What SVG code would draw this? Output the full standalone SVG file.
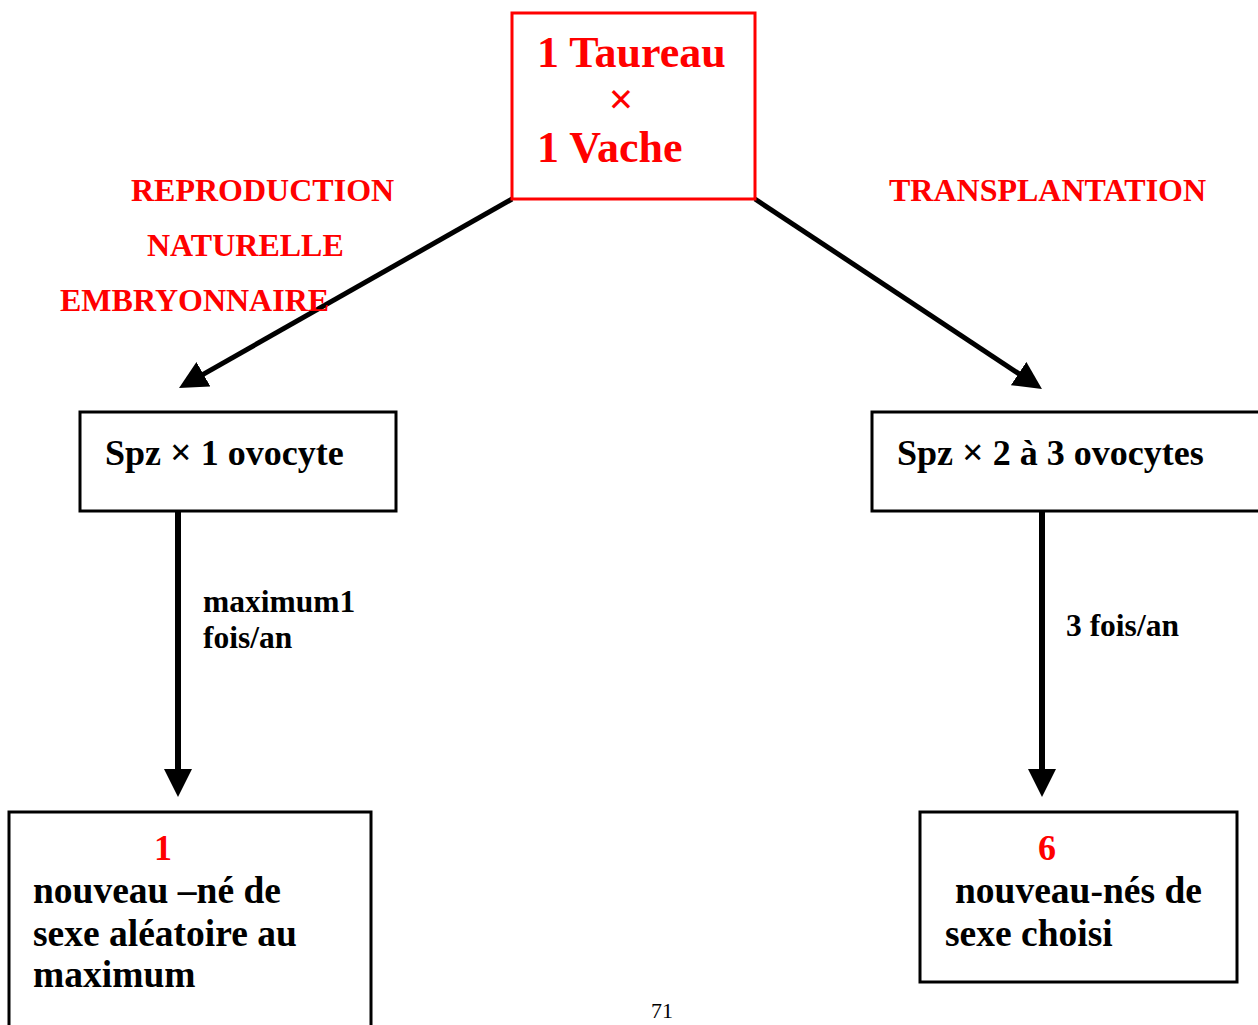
<svg xmlns="http://www.w3.org/2000/svg" width="1258" height="1025" viewBox="0 0 1258 1025">
  <defs>
    <style>
      .t { font-family: "Liberation Serif", "Times New Roman", serif; font-weight: bold; }
      .red { fill: #ff0000; }
      .blk { fill: #000000; }
      .box { fill: #ffffff; stroke: #000000; stroke-width: 3; }
      .boxr { fill: #ffffff; stroke: #ff0000; stroke-width: 3; }
      .edge { stroke: #000000; fill: none; }
      .mul { font-size: 38px; }
    </style>
    <marker id="head" markerUnits="userSpaceOnUse" viewBox="0 0 28 28" refX="14" refY="14" markerWidth="28" markerHeight="28" orient="auto">
      <path d="M0,0 L28,14 L0,28 Z" fill="#000000"/>
    </marker>
  </defs>

  <rect width="1258" height="1025" fill="#ffffff"/>

  <!-- connectors: lines stop short of the tip so the head stays pointed -->
  <g id="connectors">
    <line class="edge" x1="512" y1="199" x2="191.2" y2="381.1" stroke-width="5" marker-end="url(#head)"/>
    <line class="edge" x1="755" y1="199" x2="1030.3" y2="381.3" stroke-width="5" marker-end="url(#head)"/>
    <line class="edge" x1="178" y1="511" x2="178" y2="783" stroke-width="6" marker-end="url(#head)"/>
    <line class="edge" x1="1042" y1="511" x2="1042" y2="783" stroke-width="6" marker-end="url(#head)"/>
  </g>

  <!-- edge labels -->
  <g id="label-left" class="t red" font-size="32">
    <text x="131" y="201">REPRODUCTION</text>
    <text x="147" y="256">NATURELLE</text>
    <text x="60" y="311">EMBRYONNAIRE</text>
  </g>
  <g id="label-right" class="t red" font-size="32">
    <text x="889" y="201">TRANSPLANTATION</text>
  </g>
  <g id="label-freq-left" class="t blk" font-size="31.5">
    <text x="203" y="612">maximum1</text>
    <text x="203" y="648">fois/an</text>
  </g>
  <g id="label-freq-right" class="t blk" font-size="31.5">
    <text x="1066" y="636">3 fois/an</text>
  </g>

  <!-- parents -->
  <g id="node-parents">
    <rect class="boxr" x="512" y="13" width="243" height="186"/>
    <text class="t red" x="537" y="67" font-size="44">1 Taureau</text>
    <text class="t red" x="621" y="114" font-size="44" font-weight="normal" text-anchor="middle">×</text>
    <text class="t red" x="537" y="162" font-size="44">1 Vache</text>
  </g>

  <!-- fertilisation -->
  <g id="node-natural">
    <rect class="box" x="80" y="412" width="316" height="99"/>
    <text class="t blk" x="105" y="465" font-size="36">Spz <tspan class="mul">×</tspan> 1 ovocyte</text>
  </g>
  <g id="node-transplant">
    <rect class="box" x="872" y="412" width="392" height="99"/>
    <text class="t blk" x="897" y="465" font-size="36">Spz <tspan class="mul">×</tspan> 2 à 3 ovocytes</text>
  </g>

  <!-- offspring -->
  <g id="node-result-natural">
    <rect class="box" x="9" y="812" width="362" height="230"/>
    <text class="t red" x="163" y="860" font-size="36" text-anchor="middle">1</text>
    <text class="t blk" x="33" y="903" font-size="37.5">nouveau –né de</text>
    <text class="t blk" x="33" y="946" font-size="37.5">sexe aléatoire au</text>
    <text class="t blk" x="33" y="987" font-size="37.5">maximum</text>
  </g>
  <g id="node-result-transplant">
    <rect class="box" x="920" y="812" width="317" height="170"/>
    <text class="t red" x="1047" y="860" font-size="36" text-anchor="middle">6</text>
    <text class="t blk" x="955" y="903" font-size="37.5">nouveau-nés de</text>
    <text class="t blk" x="945" y="946" font-size="37.5">sexe choisi</text>
  </g>

  <!-- page number -->
  <text id="page-number" x="662" y="1018" font-family="Liberation Serif, serif" font-size="22" text-anchor="middle" fill="#000000">71</text>
</svg>
